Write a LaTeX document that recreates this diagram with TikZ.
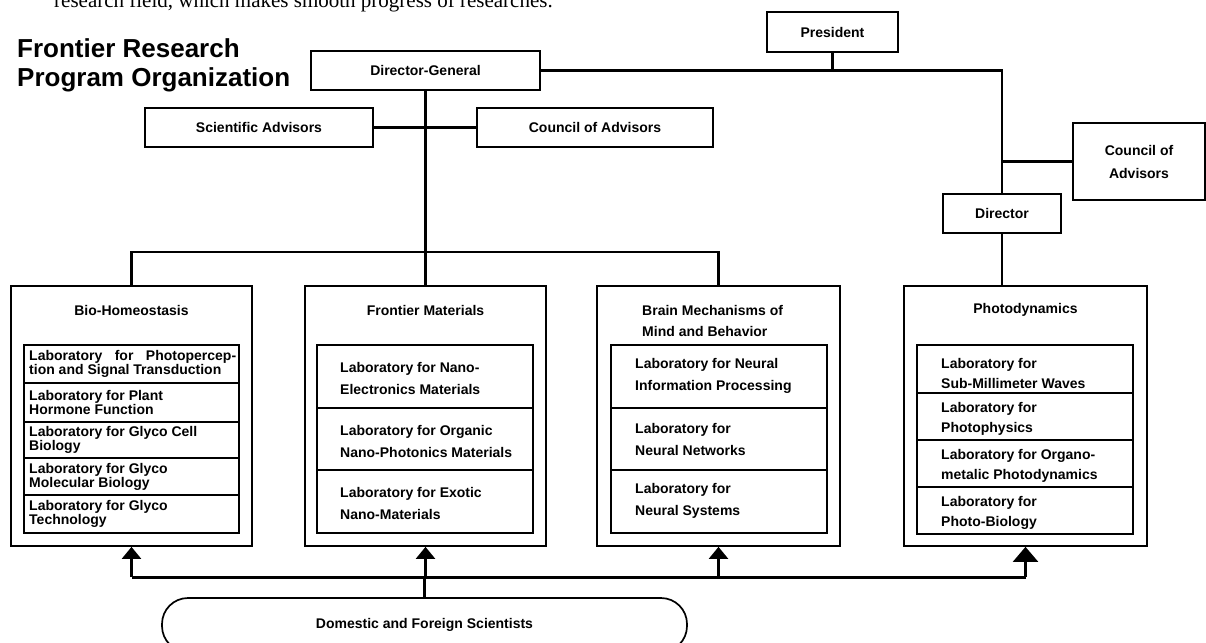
\documentclass[tikz,border=0pt]{standalone}
\usepackage{fontspec}
\setmainfont{Liberation Sans}
\newfontfamily\introfont{Liberation Serif}
\usetikzlibrary{arrows.meta}

\begin{document}
\begin{tikzpicture}[x=1pt, y=-1pt,
  font=\bfseries\fontsize{14}{14}\selectfont,
  box/.style={draw, line width=1.7pt, inner sep=0pt, align=center},
  labbox/.style={draw, line width=1.7pt, inner sep=0pt, minimum height=260},
  row/.style={draw, line width=1.7pt, inner sep=0pt},
  labtext/.style={anchor=west, align=left, inner sep=0pt},
  link/.style={line width=2.3pt},
  bus/.style={line width=3pt},
  uparrow/.style={line width=2.3pt, -{Triangle[width=19pt,length=12pt]}},
  bigarrow/.style={line width=2.3pt, -{Triangle[width=25pt,length=15pt]}}]

\useasboundingbox (0,0) rectangle (1206,642);

% cut-off line of the page text above
\node[anchor=base west, inner sep=0pt, font=\introfont\mdseries\fontsize{21}{21}\selectfont] (intro) at (54,8)
  {research field, which makes smooth progress of researches.};

% title
\node[anchor=base west, inner sep=0pt, font=\bfseries\fontsize{26}{29}\selectfont] (title) at (17,57) {Frontier Research};
\node[anchor=base west, inner sep=0pt, font=\bfseries\fontsize{26}{29}\selectfont] (subtitle) at (17,86) {Program Organization};

% management
\node[box, minimum width=229, minimum height=39] (dg) at (425.5,70.5) {Director-General};
\node[box, minimum width=131, minimum height=40] (pres) at (832.5,32) {President};
\node[box, minimum width=228, minimum height=39] (sci) at (259,127.5) {Scientific Advisors};
\node[box, minimum width=236, minimum height=39] (cadv) at (595,127.5) {Council of Advisors};
\node[box, minimum width=132, minimum height=77, font=\bfseries\fontsize{14}{23}\selectfont] (cadvr) at (1139,161.5) {Council of\\Advisors};
\node[box, minimum width=118, minimum height=39] (dir) at (1002,213.5) {Director};

% research groups
\node[labbox, minimum width=241] (bio) at (131.5,416) {};
\node[labbox, minimum width=241] (fm) at (425.5,416) {};
\node[labbox, minimum width=243] (bm) at (718.5,416) {};
\node[labbox, minimum width=243] (pd) at (1025.5,416) {};

\node[inner sep=0pt] (biot) at (131.5,310) {Bio-Homeostasis};
\node[inner sep=0pt] (fmt) at (425.5,310) {Frontier Materials};
\node[labtext, font=\bfseries\fontsize{14}{21}\selectfont] (bmt) at (642,320.5) {Brain Mechanisms of\\Mind and Behavior};
\node[inner sep=0pt] (pdt) at (1025.5,310) {Photodynamics};

% Bio-Homeostasis laboratories
\node[row, minimum width=215, minimum height=38] (bio1) at (131.5,364) {};
\node[row, minimum width=215, minimum height=39] (bio2) at (131.5,402.5) {};
\node[row, minimum width=215, minimum height=36] (bio3) at (131.5,440) {};
\node[row, minimum width=215, minimum height=37] (bio4) at (131.5,476.5) {};
\node[row, minimum width=215, minimum height=38] (bio5) at (131.5,514) {};
\node[labtext, text width=207pt, align=justify] (bio1t) at (29,364) {Laboratory for Photopercep-\linebreak tion and Signal Transduction};
\node[labtext] (bio2t) at (29,402.5) {Laboratory for Plant\\Hormone Function};
\node[labtext] (bio3t) at (29,440) {Laboratory for Glyco Cell\\Biology};
\node[labtext] (bio4t) at (29,476.5) {Laboratory for Glyco\\Molecular Biology};
\node[labtext] (bio5t) at (29,514) {Laboratory for Glyco\\Technology};

% Frontier Materials laboratories
\node[row, minimum width=216, minimum height=63] (fm1) at (425,376.5) {};
\node[row, minimum width=216, minimum height=62] (fm2) at (425,439) {};
\node[row, minimum width=216, minimum height=63] (fm3) at (425,501.5) {};
\node[labtext, font=\bfseries\fontsize{14}{22}\selectfont] (fm1t) at (340,378) {Laboratory for Nano-\\Electronics Materials};
\node[labtext, font=\bfseries\fontsize{14}{22}\selectfont] (fm2t) at (340,441) {Laboratory for Organic\\Nano-Photonics Materials};
\node[labtext, font=\bfseries\fontsize{14}{22}\selectfont] (fm3t) at (340,503) {Laboratory for Exotic\\Nano-Materials};

% Brain Mechanisms laboratories
\node[row, minimum width=216, minimum height=63] (bm1) at (719,376.5) {};
\node[row, minimum width=216, minimum height=62] (bm2) at (719,439) {};
\node[row, minimum width=216, minimum height=63] (bm3) at (719,501.5) {};
\node[labtext, font=\bfseries\fontsize{14}{22}\selectfont] (bm1t) at (635,376) {Laboratory for Neural\\Information Processing};
\node[labtext, font=\bfseries\fontsize{14}{22}\selectfont] (bm2t) at (635,439) {Laboratory for\\Neural Networks};
\node[labtext, font=\bfseries\fontsize{14}{22}\selectfont] (bm3t) at (635,501) {Laboratory for\\Neural Systems};

% Photodynamics laboratories
\node[row, minimum width=216, minimum height=48] (pd1) at (1025,369) {};
\node[row, minimum width=216, minimum height=47] (pd2) at (1025,416.5) {};
\node[row, minimum width=216, minimum height=47] (pd3) at (1025,463.5) {};
\node[row, minimum width=216, minimum height=47] (pd4) at (1025,510.5) {};
\node[labtext, font=\bfseries\fontsize{14}{20}\selectfont] (pd1t) at (941,373) {Laboratory for\\Sub-Millimeter Waves};
\node[labtext, font=\bfseries\fontsize{14}{20}\selectfont] (pd2t) at (941,419) {Laboratory for\\Photophysics};
\node[labtext, font=\bfseries\fontsize{14}{20}\selectfont] (pd3t) at (941,466) {Laboratory for Organo-\\metalic Photodynamics};
\node[labtext, font=\bfseries\fontsize{14}{20}\selectfont] (pd4t) at (941,513) {Laboratory for\\Photo-Biology};

% scientists
\node[box, rounded corners=26pt, minimum width=525, minimum height=54] (dom) at (424.5,625) {Domestic and Foreign Scientists};

% lines
\coordinate (tbus) at (0,252);
\coordinate (bbus) at (0,577);

\draw[link] (sci.east) -- (cadv.west);
\draw[link] (dg.south) -- (fm.north);
\draw[link] (bio.north) -- (bio.north |- tbus) -- (bm.north |- tbus) -- (bm.north);
\draw[link] (dg.east) -- (dg.east -| dir.north) -- (dir.north);
\draw[link] (pres.south) -- (pres.south |- dg.east);
\draw[link] (cadvr.west) -- (cadvr.west -| dir.north);
\draw[link] (dir.south) -- (dir.south |- pd.north);

\draw[bus] (bio.south |- bbus) -- (pd.south |- bbus);
\draw[link] (dom.north) -- (dom.north |- bbus);
\draw[uparrow] (bio.south |- bbus) -- (bio.south);
\draw[uparrow] (fm.south |- bbus) -- (fm.south);
\draw[uparrow] (bm.south |- bbus) -- (bm.south);
\draw[bigarrow] (pd.south |- bbus) -- (pd.south);

\end{tikzpicture}
\end{document}
